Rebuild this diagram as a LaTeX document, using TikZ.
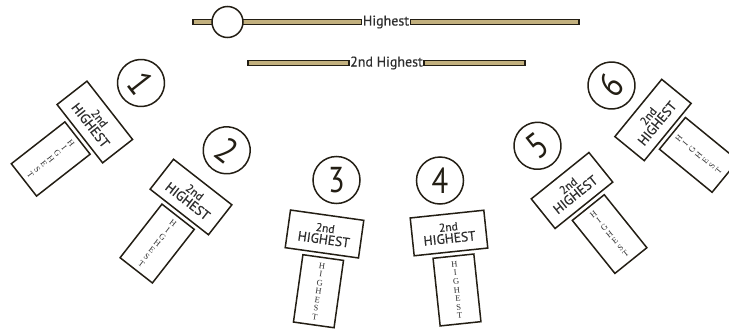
\documentclass[tikz,border=0pt]{standalone}
\usepackage{fontspec}
\setmainfont{Liberation Serif}
\newfontfamily\signfont[FakeBold=0.6]{PT Sans}
\newfontfamily\numfont[FakeStretch=0.85]{PT Sans}
\usepackage{xcolor}
\usepackage{tikz}
\usetikzlibrary{positioning}

\definecolor{rim}{HTML}{231E14}
\definecolor{barfill}{HTML}{C2B07E}
\definecolor{ink}{HTML}{2E2E2E}

\begin{document}
\begin{tikzpicture}[x=1pt, y=-1pt,
        sign/.style = {draw=rim, line width=1.5pt, fill=white, inner sep=0pt, transform shape},
        board/.style = {sign, minimum width=74pt, minimum height=38pt, align=center, text=ink,
                        font=\signfont\fontsize{13.5}{12}\selectfont},
        post/.style = {sign, minimum width=41pt, minimum height=68pt, align=center, text=ink,
                       font=\fontsize{8.5}{8.6}\selectfont},
        number/.style = {circle, draw=rim, line width=1.5pt, minimum size=47pt, inner sep=0pt,
                         font=\numfont\fontsize{36}{36}\selectfont, text=rim},
        bar/.style = {draw=rim, line width=1.2pt, fill=barfill},
        railtext/.style = {inner sep=1pt, text=ink, font=\signfont\fontsize{14}{14}\selectfont},
    ]
    \useasboundingbox (0,0) rectangle (729,335);
    % rails
    \node [railtext] (high) at (386,22) {Highest};
    \node [railtext] (second) at (386.5,63) {2nd Highest};
    \coordinate (highL) at (193,22);
    \coordinate (highR) at (579,22);
    \coordinate (secondL) at (248,63);
    \coordinate (secondR) at (525,63);
    \draw [bar] ([yshift=-2.2pt]highL) rectangle ([yshift=2.2pt]high.west);
    \draw [bar] ([yshift=-2.2pt]high.east) rectangle ([yshift=2.2pt]highR);
    \draw [bar] ([yshift=-2.2pt]secondL) rectangle ([yshift=2.2pt]second.west);
    \draw [bar] ([yshift=-2.2pt]second.east) rectangle ([yshift=2.2pt]secondR);
    \node [circle, draw=rim, line width=1.5pt, fill=white, minimum size=31pt] (knob) at (227.5,22) {};
    % signs: number/x/y/angle/circle x/circle y/digit angle
    \foreach \i/\x/\y/\a/\nx/\ny/\na in {1/94.8/122/-52/141/83/-52, 2/191/197/-38/226.7/150.3/-38,
            3/324.5/234/-8/336.5/180/0, 4/449/233/6/440/180.5/0,
            5/572/190.5/38.8/537.5/145.8/38, 6/653/120/50.7/611.5/85.5/50} {
        \begin{scope}[shift={(\x,\y)}, rotate=\a]
            \node [board] (s\i) at (0,0) {{\fontsize{11.5}{11}\selectfont 2nd}\\HIGHEST};
            \node [post, below=3pt of s\i, xshift=2pt] (h\i) {H\\I\\G\\H\\E\\S\\T};
        \end{scope}
        \node [number, rotate=\na] (n\i) at (\nx,\ny) {\i};
    }
\end{tikzpicture}
\end{document}
